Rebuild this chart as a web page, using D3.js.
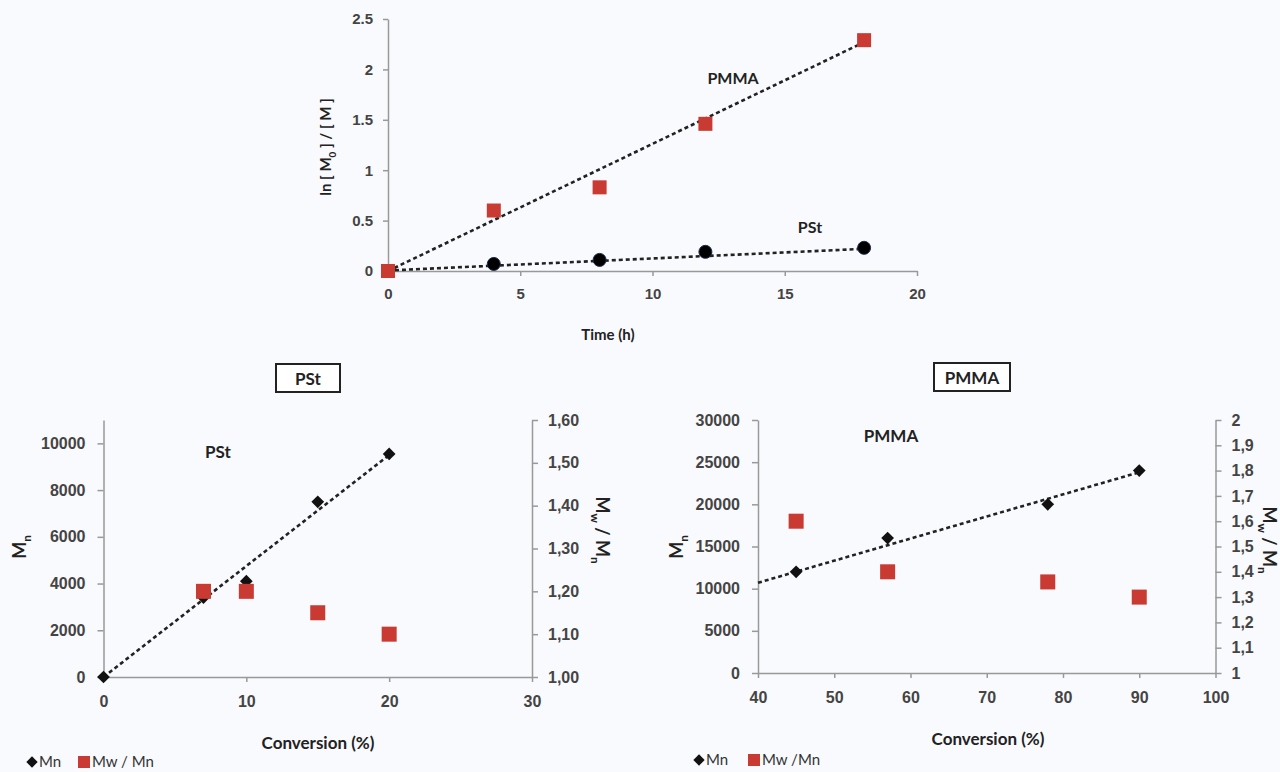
<!DOCTYPE html>
<html>
<head>
<meta charset="utf-8">
<script src="https://cdn.jsdelivr.net/npm/d3@7"></script>
<style>
	body { margin: 0; background: #f9fafd; }
	svg { display: block; font-family: Lato, "Open Sans", sans-serif; }
	.tick text { fill: #444; font-weight: bold; }
	.domain, .tick line { stroke: #999; stroke-width: 1.5; }
</style>
</head>
<body>
<svg id="chart" width="1280" height="772"></svg>
<script>
// top panel: ln([M0]/[M]) against time
var timeH = [0, 4, 8, 12, 18];
var lnPMMA = [0, 0.60, 0.83, 1.46, 2.29];
var lnPSt = [0, 0.07, 0.11, 0.19, 0.23];
var trendPMMA = [[0, 0], [18, 2.27]];
var trendPSt = [[0, 0.005], [18, 0.22]];
var timeTicks = [0, 5, 10, 15, 20];
var lnTicks = [0, 0.5, 1, 1.5, 2, 2.5];

// bottom left: PSt
var convPSt = [0, 7, 10, 15, 20];
var mnPSt = [0, 3400, 4100, 7500, 9550];
var convPStPdi = [7, 10, 15, 20];
var pdiPSt = [1.20, 1.20, 1.15, 1.10];
var trendMnPSt = [[0, 0], [20, 9500]];
var convTicksPSt = [0, 10, 20, 30];
var mnTicksPSt = [0, 2000, 4000, 6000, 8000, 10000];
var pdiTicksPSt = [1.0, 1.1, 1.2, 1.3, 1.4, 1.5, 1.6];

// bottom right: PMMA
var convPMMA = [45, 57, 78, 90];
var mnPMMA = [12000, 16000, 20000, 24000];
var pdiPMMA = [1.60, 1.40, 1.36, 1.30];
var trendMnPMMA = [[40, 10700], [90, 23800]];
var convTicksPMMA = [40, 50, 60, 70, 80, 90, 100];
var mnTicksPMMA = [0, 5000, 10000, 15000, 20000, 25000, 30000];
var pdiTicksPMMA = [1, 1.1, 1.2, 1.3, 1.4, 1.5, 1.6, 1.7, 1.8, 1.9, 2];

var red = "#c83a32";
var svg = d3.select("#chart");

function zip(xs, ys) {
	return xs.map(function (x, i) { return [x, ys[i]]; });
}

function dashed(g, x, y, pts) {
	g.append("path")
		.attr("d", d3.line().x(function (d) { return x(d[0]); }).y(function (d) { return y(d[1]); })(pts))
		.attr("fill", "none")
		.attr("stroke", "#222")
		.attr("stroke-width", 2.6)
		.attr("stroke-dasharray", "4,3");
}

function squares(g, x, y, pts, s) {
	g.selectAll(null).data(pts).enter().append("rect")
		.attr("x", function (d) { return x(d[0]) - s / 2; })
		.attr("y", function (d) { return y(d[1]) - s / 2; })
		.attr("width", s).attr("height", s)
		.attr("fill", red);
}

function diamonds(g, x, y, pts) {
	g.selectAll(null).data(pts).enter().append("rect")
		.attr("x", -4.5).attr("y", -4.5).attr("width", 9).attr("height", 9)
		.attr("transform", function (d) { return "translate(" + x(d[0]) + "," + y(d[1]) + ") rotate(45)"; })
		.attr("fill", "#111");
}

function subText(g, x, y, parts, size, rot, anchor) {
	var t = g.append("text")
		.attr("transform", "translate(" + x + "," + y + ")" + (rot ? " rotate(" + rot + ")" : ""))
		.attr("text-anchor", anchor || "middle")
		.style("font-size", size + "px")
		.style("font-weight", "bold")
		.attr("fill", "#222");
	parts.forEach(function (p) {
		if (p.sub) {
			t.append("tspan").attr("dy", size * 0.3).style("font-size", (size * 0.65) + "px").text(p.t);
		} else {
			t.append("tspan").attr("dy", p.back ? -size * 0.3 : 0).text(p.t);
		}
	});
	return t;
}

// ---------- top panel ----------
var xT = d3.scaleLinear().domain([0, 20]).range([388, 917]);
var yT = d3.scaleLinear().domain([0, 2.5]).range([271, 19]);
var topG = svg.append("g");

topG.append("g").attr("transform", "translate(0," + yT(0) + ")")
	.call(d3.axisBottom(xT).tickValues(timeTicks).tickSize(5).tickSizeOuter(0).tickPadding(12))
	.selectAll("text").style("font-size", "15px");
topG.append("g").attr("transform", "translate(" + xT(0) + ",0)")
	.call(d3.axisLeft(yT).tickValues(lnTicks).tickFormat(d3.format("~g")).tickSize(5).tickSizeOuter(0).tickPadding(10))
	.selectAll("text").style("font-size", "15px");

dashed(topG, xT, yT, trendPMMA);
dashed(topG, xT, yT, trendPSt);
topG.selectAll(null).data(zip(timeH, lnPSt)).enter().append("circle")
	.attr("cx", function (d) { return xT(d[0]); })
	.attr("cy", function (d) { return yT(d[1]); })
	.attr("r", 6.5)
	.attr("fill", "#000")
	.attr("stroke", "#1a2a4a").attr("stroke-width", 1);
squares(topG, xT, yT, zip(timeH, lnPMMA), 14);

subText(topG, 733, 84, [{ t: "PMMA" }], 16);
subText(topG, 810, 233, [{ t: "PSt" }], 16);
subText(topG, 608, 340, [{ t: "Time (h)" }], 15);
subText(topG, 331, 147, [{ t: "ln [ M" }, { t: "0", sub: true }, { t: " ] / [ M ]", back: true }], 15, -90);

// ---------- bottom panels ----------
function panel(o) {
	var g = svg.append("g");
	var x = d3.scaleLinear().domain(o.xDom).range(o.xRange);
	var yL = d3.scaleLinear().domain(o.yDom).range(o.yRange);
	var yR = d3.scaleLinear().domain(o.rDom).range(o.yRange);

	g.append("g").attr("transform", "translate(0," + o.yRange[0] + ")")
		.call(d3.axisBottom(x).tickValues(o.xTicks).tickSize(5).tickSizeOuter(0).tickPadding(14))
		.selectAll("text").style("font-size", "16px");
	g.append("g").attr("transform", "translate(" + o.xRange[0] + ",0)")
		.call(d3.axisLeft(yL).tickValues(o.yTicks).tickFormat(d3.format("d")).tickSize(6).tickSizeOuter(0).tickPadding(12))
		.selectAll("text").style("font-size", "16px");
	g.append("g").attr("transform", "translate(" + o.xRange[1] + ",0)")
		.call(d3.axisRight(yR).tickValues(o.rTicks).tickFormat(o.rFormat).tickSize(6).tickSizeOuter(0).tickPadding(10))
		.selectAll("text").style("font-size", "16px");

	dashed(g, x, yL, o.trend);
	diamonds(g, x, yL, o.mn);
	squares(g, x, yR, o.pdi, 15);

	// boxed title
	g.append("rect")
		.attr("x", o.boxX - o.boxW / 2).attr("y", o.boxY)
		.attr("width", o.boxW).attr("height", 28)
		.attr("fill", "#fff").attr("stroke", "#222").attr("stroke-width", 2);
	subText(g, o.boxX, o.boxY + 21, [{ t: o.name }], 17);

	subText(g, o.labX, o.labY, [{ t: o.name }], 17);
	subText(g, o.xTitleX, o.yRange[0] + 72, [{ t: "Conversion (%)" }], 17);
	subText(g, o.mnX, 547, [{ t: "M" }, { t: "n", sub: true }], 18, -90);
	subText(g, o.pdiX, o.pdiY, [{ t: "M" }, { t: "w", sub: true }, { t: " / M", back: true }, { t: "n", sub: true }], 18, 90);

	// legend
	var lg = g.append("g").attr("transform", "translate(" + o.legX + "," + o.legY + ")");
	lg.append("rect").attr("x", -4).attr("y", -4).attr("width", 8).attr("height", 8)
		.attr("transform", "rotate(45)").attr("fill", "#111");
	lg.append("text").attr("x", 7).attr("y", 5).style("font-size", "15px").attr("fill", "#333").text("Mn");
	lg.append("rect").attr("x", o.legGap).attr("y", -6).attr("width", 12).attr("height", 12).attr("fill", red);
	lg.append("text").attr("x", o.legGap + 14).attr("y", 5).style("font-size", "15px").attr("fill", "#333").text(o.legText);
}

panel({
	name: "PSt",
	xDom: [0, 30], xRange: [103.5, 532],
	yDom: [0, 11000], rDom: [1.0, 1.6], yRange: [677, 420],
	xTicks: convTicksPSt, yTicks: mnTicksPSt, rTicks: pdiTicksPSt,
	rFormat: function (d) { return d.toFixed(2).replace(".", ","); },
	trend: trendMnPSt, mn: zip(convPSt, mnPSt), pdi: zip(convPStPdi, pdiPSt),
	boxX: 308, boxY: 364, boxW: 64,
	labX: 218, labY: 458, xTitleX: 318,
	mnX: 26, pdiX: 596, pdiY: 530,
	legX: 32, legY: 762, legGap: 46, legText: "Mw / Mn"
});

panel({
	name: "PMMA",
	xDom: [40, 100], xRange: [758, 1215.5],
	yDom: [0, 30000], rDom: [1, 2], yRange: [673, 420],
	xTicks: convTicksPMMA, yTicks: mnTicksPMMA, rTicks: pdiTicksPMMA,
	rFormat: function (d) { return String(+d.toFixed(1)).replace(".", ","); },
	trend: trendMnPMMA, mn: zip(convPMMA, mnPMMA), pdi: zip(convPMMA, pdiPMMA),
	boxX: 972, boxY: 363, boxW: 76,
	labX: 891, labY: 442, xTitleX: 988,
	mnX: 683, pdiX: 1263, pdiY: 540,
	legX: 699, legY: 760, legGap: 49, legText: "Mw /Mn"
});
</script>
</body>
</html>
